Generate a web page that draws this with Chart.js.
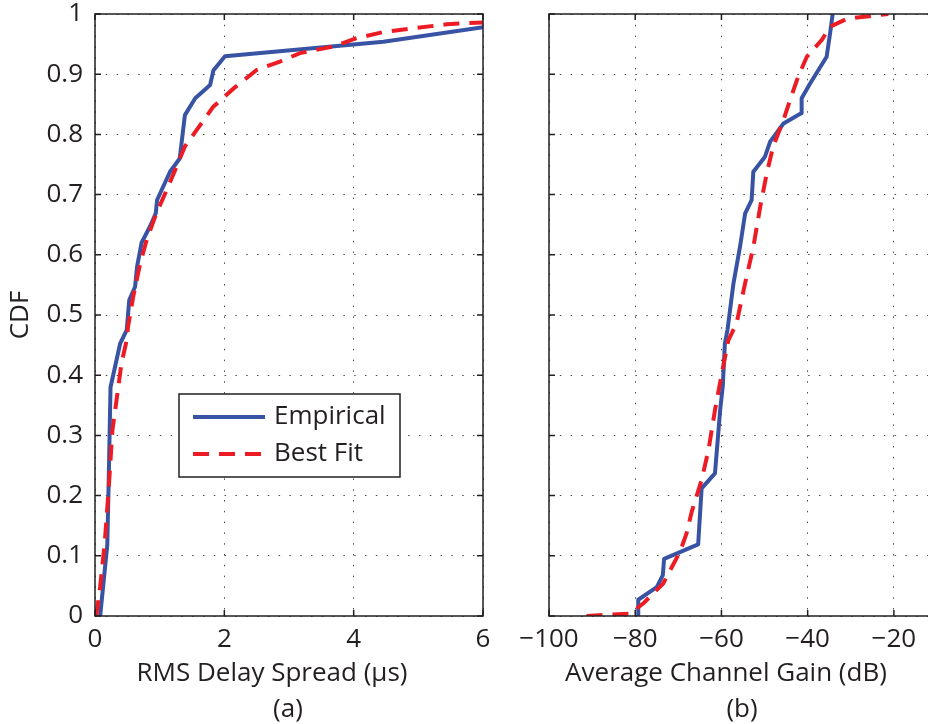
<!DOCTYPE html>
<html>
<head>
<meta charset="utf-8">
<script src="https://cdn.jsdelivr.net/npm/chart.js@4.4.1/dist/chart.umd.min.js"></script>
<style>
  html, body { margin: 0; padding: 0; background: #fff; }
  body { width: 928px; height: 724px; overflow: hidden; position: relative; }
  canvas { position: absolute; top: 0; }
  #delay { left: 0; width: 500px; height: 724px; }
  #gain { left: 500px; width: 460px; height: 724px; }
</style>
</head>
<body>
<canvas id="delay" width="500" height="724"></canvas>
<canvas id="gain" width="460" height="724"></canvas>
<script>
// (a) RMS delay spread CDF
const delayTicks = [0, 2, 4, 6];
const delayEmpX = [0.08, 0.19, 0.21, 0.24, 0.39, 0.49, 0.53, 0.62, 0.65, 0.72, 0.85, 0.94, 0.96, 1.16, 1.31, 1.39, 1.55, 1.78, 1.83, 2.01, 4.46, 6.0];
const delayEmpY = [0, 0.118, 0.215, 0.38, 0.453, 0.475, 0.525, 0.547, 0.58, 0.62, 0.647, 0.669, 0.691, 0.738, 0.76, 0.832, 0.86, 0.882, 0.906, 0.93, 0.954, 0.978];
const delayFitX = [0.02, 0.08, 0.15, 0.21, 0.27, 0.34, 0.41, 0.49, 0.51, 0.59, 0.70, 0.80, 0.95, 1.11, 1.26, 1.39, 1.57, 1.83, 2.14, 2.50, 2.86, 3.17, 3.69, 4.05, 4.46, 5.44, 6.0];
const delayFitY = [0, 0.049, 0.121, 0.209, 0.309, 0.364, 0.42, 0.458, 0.48, 0.53, 0.586, 0.625, 0.669, 0.708, 0.746, 0.78, 0.807, 0.846, 0.876, 0.907, 0.921, 0.935, 0.946, 0.96, 0.97, 0.983, 0.986];

// (b) average channel gain CDF
const gainTicks = [-100, -80, -60, -40, -20];
const gainEmpX = [-79.3, -79.3, -75.0, -73.6, -73.3, -65.4, -64.6, -61.5, -60.3, -59.7, -59.2, -58.6, -57.2, -55.7, -54.5, -53.0, -52.6, -49.9, -48.7, -45.6, -41.5, -41.4, -39.4, -35.6, -34.8, -34.2];
const gainEmpY = [0, 0.027, 0.048, 0.068, 0.095, 0.119, 0.212, 0.237, 0.342, 0.381, 0.453, 0.475, 0.553, 0.613, 0.669, 0.691, 0.738, 0.763, 0.788, 0.818, 0.835, 0.86, 0.885, 0.929, 0.968, 1.0];
const gainFitX = [-91.3, -81.2, -78.1, -73.5, -69.6, -68.1, -66.9, -64.6, -63.0, -61.5, -59.9, -58.4, -56.5, -54.5, -52.6, -51.0, -49.5, -48.0, -45.6, -44.1, -42.2, -40.2, -36.7, -34.8, -30.9, -26.3, -21.3];
const gainFitY = [0, 0.004, 0.021, 0.054, 0.107, 0.137, 0.173, 0.226, 0.276, 0.342, 0.403, 0.458, 0.486, 0.553, 0.613, 0.68, 0.735, 0.78, 0.824, 0.857, 0.896, 0.929, 0.957, 0.979, 0.992, 0.996, 1.0];

const seriesNames = ['Empirical', 'Best Fit'];
const ink = '#231f20';
const blue = '#3953a4';
const red = '#ed1c24';
const fontFamily = "'Open Sans', sans-serif";
const fontSize = 26;

function pts(xs, ys) {
  return xs.map((x, i) => ({ x: x, y: ys[i] }));
}

// box round the axes + MATLAB style inside tick marks
const frame = {
  id: 'frame',
  afterDatasetsDraw(chart) {
    const { ctx, chartArea: a, scales } = chart;
    const tl = 6;
    ctx.save();
    ctx.strokeStyle = ink;
    ctx.lineWidth = 1.5;
    ctx.setLineDash([]);
    ctx.beginPath();
    scales.x.ticks.forEach(t => {
      const px = scales.x.getPixelForValue(t.value);
      ctx.moveTo(px, a.bottom); ctx.lineTo(px, a.bottom - tl);
      ctx.moveTo(px, a.top); ctx.lineTo(px, a.top + tl);
    });
    scales.y.ticks.forEach(t => {
      const py = scales.y.getPixelForValue(t.value);
      ctx.moveTo(a.left, py); ctx.lineTo(a.left + tl, py);
      ctx.moveTo(a.right, py); ctx.lineTo(a.right - tl, py);
    });
    ctx.stroke();
    ctx.strokeRect(a.left, a.top, a.right - a.left, a.bottom - a.top);
    ctx.restore();
  }
};

// x title and panel tag, a bit left of centre like the original
const caption = {
  id: 'caption',
  afterDraw(chart, args, opts) {
    const { ctx, chartArea: a } = chart;
    const cx = (a.left + a.right) / 2;
    ctx.save();
    ctx.fillStyle = ink;
    ctx.font = fontSize + 'px ' + fontFamily;
    ctx.textAlign = 'center';
    ctx.textBaseline = 'middle';
    ctx.fillText(opts.text, cx - 17, a.bottom + 58);
    ctx.fillText(opts.tag, cx - 1, a.bottom + 94);
    ctx.restore();
  }
};

// legend box inside panel (a)
const boxLegend = {
  id: 'boxLegend',
  afterDatasetsDraw(chart, args, opts) {
    if (!opts.show) return;
    const { ctx, chartArea: a } = chart;
    const left = a.left + 84, top = a.top + 380, w = 221, h = 83;
    ctx.save();
    ctx.fillStyle = '#fff';
    ctx.fillRect(left, top, w, h);
    ctx.strokeStyle = ink;
    ctx.lineWidth = 1.5;
    ctx.strokeRect(left, top, w, h);
    const sets = [chart.data.datasets[0], chart.data.datasets[1]];
    sets.forEach((ds, i) => {
      const yy = top + 23 + i * 37;
      ctx.beginPath();
      ctx.strokeStyle = ds.borderColor;
      ctx.lineWidth = ds.borderWidth;
      ctx.setLineDash(ds.borderDash || []);
      ctx.moveTo(left + 14, yy);
      ctx.lineTo(left + 86, yy);
      ctx.stroke();
      ctx.setLineDash([]);
      ctx.fillStyle = ink;
      ctx.font = fontSize + 'px ' + fontFamily;
      ctx.textBaseline = 'middle';
      ctx.fillText(ds.label, left + 95, yy);
    });
    ctx.restore();
  }
};

function makeChart(id, opt) {
  const tickFont = { family: fontFamily, size: fontSize, lineHeight: 1.05 };
  return new Chart(document.getElementById(id), {
    type: 'line',
    data: {
      datasets: [{
        label: seriesNames[0],
        data: pts(opt.empX, opt.empY),
        borderColor: blue,
        borderWidth: 4,
        borderJoinStyle: 'round',
        pointRadius: 0,
        tension: 0,
        order: 2
      }, {
        label: seriesNames[1],
        data: pts(opt.fitX, opt.fitY),
        borderColor: red,
        borderWidth: 4,
        borderDash: [16, 10],
        borderCapStyle: 'butt',
        pointRadius: 0,
        tension: 0,
        order: 1
      }]
    },
    options: {
      responsive: false,
      animation: false,
      events: [],
      layout: { padding: { top: 14, right: opt.padRight, bottom: 0, left: 0 } },
      plugins: {
        legend: { display: false },
        tooltip: { enabled: false },
        caption: { text: opt.title, tag: opt.tag },
        boxLegend: { show: opt.legend }
      },
      scales: {
        x: {
          type: 'linear',
          min: opt.xMin,
          max: opt.xMax,
          ticks: {
            color: ink,
            font: tickFont,
            padding: 10,
            maxRotation: 0,
            autoSkip: false,
            callback: v => v < 0 ? '\u2212' + Math.abs(v) : String(v)
          },
          afterBuildTicks: s => { s.ticks = opt.xTicks.map(v => ({ value: v })); },
          grid: { color: 'rgba(35,31,32,0.8)', lineWidth: 1, drawTicks: false },
          border: { display: false, dash: [1.5, 9.3] },
          afterFit: s => { s.height = 108; s.paddingLeft = 0; s.paddingRight = 0; }
        },
        y: {
          min: 0,
          max: 1,
          ticks: {
            stepSize: 0.1,
            display: opt.yLabels,
            color: ink,
            font: tickFont,
            padding: 12,
            callback: v => String(Number(v.toFixed(1)))
          },
          title: {
            display: opt.yLabels,
            text: 'CDF',
            color: ink,
            font: { family: fontFamily, size: fontSize, lineHeight: 1.2 },
            padding: { top: 5, bottom: 0 }
          },
          grid: { color: 'rgba(35,31,32,0.8)', lineWidth: 1, drawTicks: false },
          border: { display: false, dash: [1.5, 9.3] },
          afterFit: s => { s.width = opt.yWidth; s.paddingTop = 0; s.paddingBottom = 0; }
        }
      }
    },
    plugins: [frame, caption, boxLegend]
  });
}

makeChart('delay', {
  empX: delayEmpX, empY: delayEmpY, fitX: delayFitX, fitY: delayFitY,
  xMin: 0, xMax: 6, xTicks: delayTicks, yWidth: 95, padRight: 17, yLabels: true,
  title: 'RMS Delay Spread (\u03bcs)', tag: '(a)', legend: true
});

makeChart('gain', {
  empX: gainEmpX, empY: gainEmpY, fitX: gainFitX, fitY: gainFitY,
  xMin: -100, xMax: -10, xTicks: gainTicks, yWidth: 49, padRight: 23, yLabels: false,
  title: 'Average Channel Gain (dB)', tag: '(b)', legend: false
});
</script>
</body>
</html>
